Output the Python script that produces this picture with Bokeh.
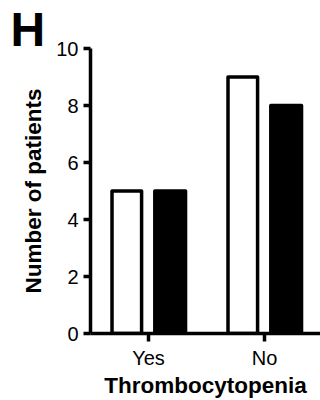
from bokeh.plotting import figure
from bokeh.models import ColumnDataSource, Range1d, FixedTicker
from bokeh.embed import file_html
from bokeh.resources import INLINE

categories = ["Yes", "No"]
open_counts = [5, 9]
filled_counts = [5, 8]
y_ticks = [0, 2, 4, 6, 8, 10]
panel_letter = "H"
x_title = "Thrombocytopenia"
y_title = "Number of patients"

GROUP_OFFSET = 0.187
centers = [i + 0.5 for i in range(len(categories))]
source = ColumnDataSource(data=dict(
    x_open=[c - GROUP_OFFSET for c in centers],
    x_filled=[c + GROUP_OFFSET for c in centers],
    open=open_counts, filled=filled_counts))

FONT = "Liberation Sans"
LW = 3.5

p = figure(width=320, height=400, x_range=Range1d(0, 1.983), y_range=Range1d(0, 10),
           output_backend="svg", toolbar_location=None,
           min_border_left=90, min_border_right=0, min_border_top=48, min_border_bottom=67)

p.title.text = panel_letter
p.title.text_font = FONT
p.title.text_font_size = "48px"
p.title.text_font_style = "bold"
p.title.text_color = "black"
p.title.align = "left"
p.title.offset = -80
p.title.standoff = -14

p.vbar(x="x_open", top="open", width=0.255, bottom=0,
       source=source, fill_color="white", line_color="black", line_width=LW, line_join="round")
p.vbar(x="x_filled", top="filled", width=0.265, bottom=0,
       source=source, fill_color="black", line_color="black", line_width=LW, line_join="round")

p.grid.visible = False
p.outline_line_color = None

for ax in (p.xaxis[0], p.yaxis[0]):
    ax.axis_line_width = LW
    ax.axis_line_color = "black"
    ax.major_tick_line_width = LW
    ax.major_tick_line_color = "black"
    ax.major_tick_in = 0
    ax.minor_tick_line_color = None
    ax.major_label_text_font = FONT
    ax.major_label_text_font_size = "20px"
    ax.major_label_text_color = "black"
    ax.axis_label_text_font = FONT
    ax.axis_label_text_font_size = "22.5px"
    ax.axis_label_text_font_style = "bold"
    ax.axis_label_text_color = "black"

p.yaxis.ticker = FixedTicker(ticks=y_ticks)
p.yaxis.major_tick_out = 7
p.yaxis.major_label_standoff = 5
p.yaxis.axis_label = y_title
p.yaxis.axis_label_standoff = 7

p.xaxis.ticker = FixedTicker(ticks=centers)
p.xaxis.major_label_overrides = {c: lab for c, lab in zip(centers, categories)}
p.xaxis.major_tick_out = 8
p.xaxis.major_label_standoff = 5
p.xaxis.axis_label = x_title
p.xaxis.axis_label_standoff = 1

open("out.html", "w").write(file_html(p, INLINE))
